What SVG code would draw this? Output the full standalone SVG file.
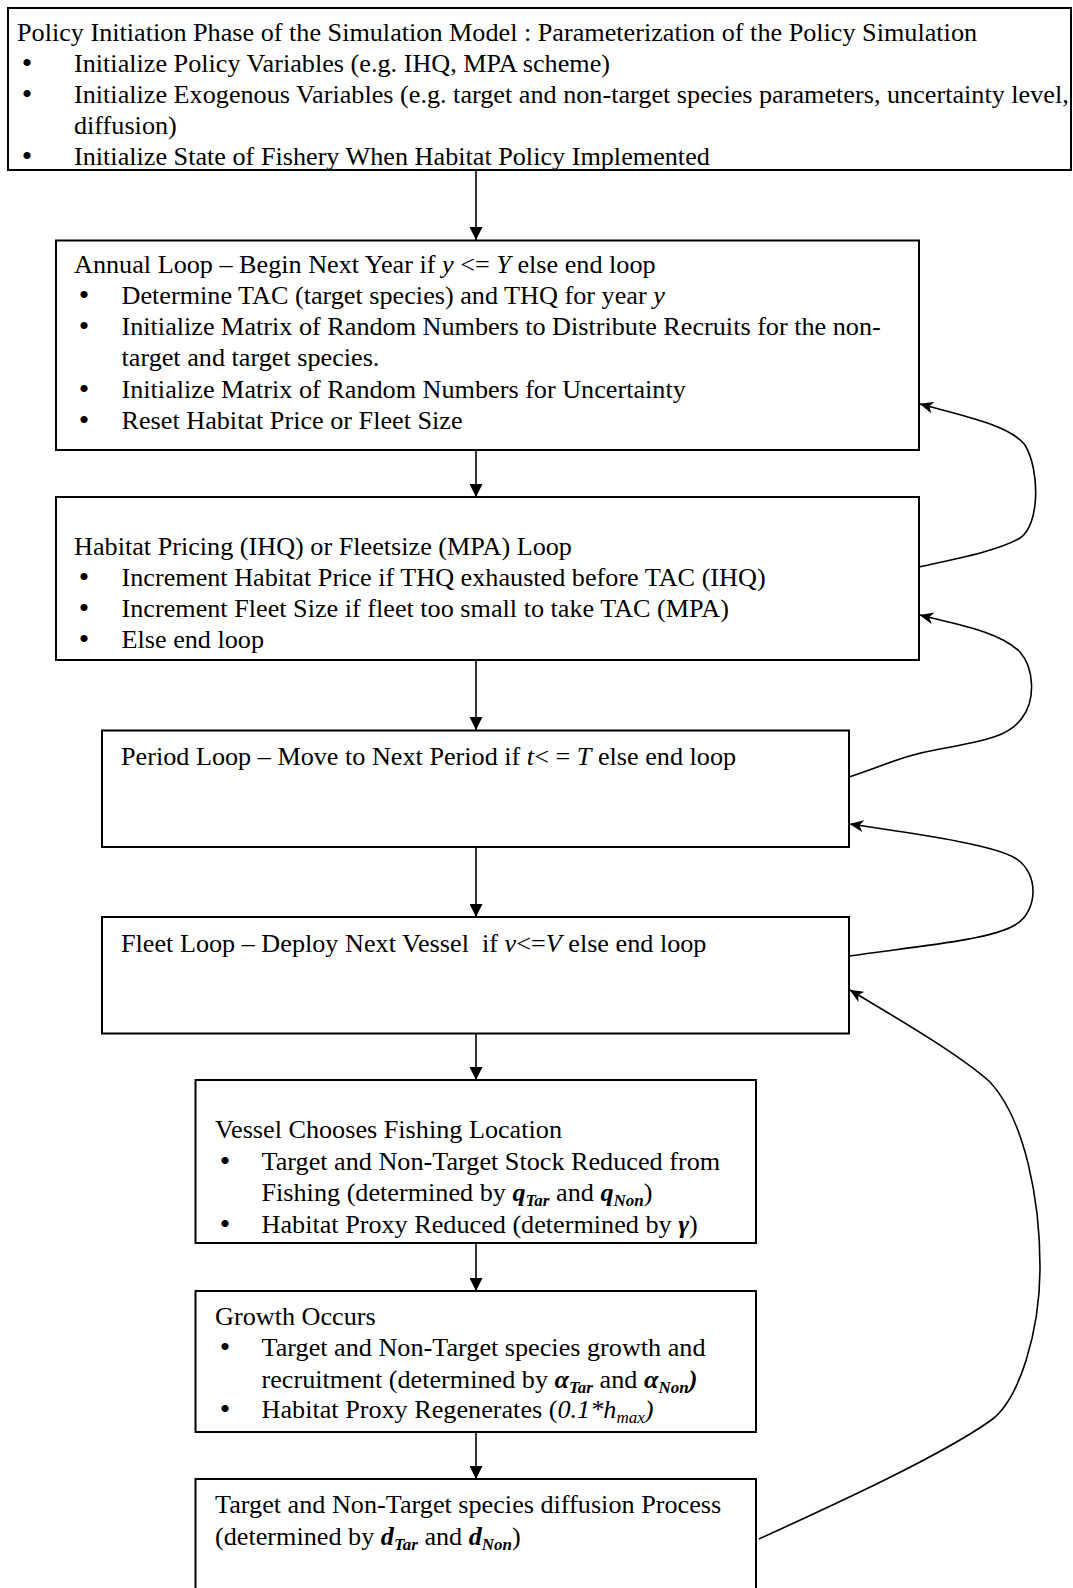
<svg xmlns="http://www.w3.org/2000/svg" width="1073" height="1588" viewBox="0 0 1073 1588">
<style>
text{font-family:"Liberation Serif","Times New Roman",serif;font-size:26.2px;fill:#000}
text.b{font-size:30px;text-anchor:middle}
.box{fill:#fff;stroke:#000;stroke-width:2}
.edge{fill:none;stroke:#000;stroke-width:1.6}
.i{font-style:italic}
.bi{font-style:italic;font-weight:bold}
.sub{font-size:17px}
</style>
<defs>
<marker id="tri" markerUnits="userSpaceOnUse" viewBox="0 0 13 13" refX="13" refY="6.5" markerWidth="13" markerHeight="13" orient="auto">
<path d="M0,0 L13,6.5 L0,13 z" fill="#000"/>
</marker>
<marker id="stealth" markerUnits="userSpaceOnUse" viewBox="0 0 14 12" refX="13.5" refY="6" markerWidth="14" markerHeight="12" orient="auto">
<path d="M0,0 L14,6 L0,12 L4,6 z" fill="#000"/>
</marker>
</defs>

<g id="connectors">
<line class="edge" x1="476" y1="170" x2="476" y2="240" marker-end="url(#tri)"/>
<line class="edge" x1="476" y1="450" x2="476" y2="497" marker-end="url(#tri)"/>
<line class="edge" x1="476" y1="660" x2="476" y2="730" marker-end="url(#tri)"/>
<line class="edge" x1="476" y1="847" x2="476" y2="917" marker-end="url(#tri)"/>
<line class="edge" x1="476" y1="1033" x2="476" y2="1080" marker-end="url(#tri)"/>
<line class="edge" x1="476" y1="1243" x2="476" y2="1291" marker-end="url(#tri)"/>
<line class="edge" x1="476" y1="1432" x2="476" y2="1479" marker-end="url(#tri)"/>
<path class="edge" d="M919,567 C960,558 1000,550 1020,538 C1040,525 1040,470 1025,445 C1010,425 960,415 920,404" marker-end="url(#stealth)"/>
<path class="edge" d="M849,777 C885,765 905,755 940,749 C990,740 1010,735 1022,718 C1036,700 1034,668 1020,652 C1000,632 960,625 920,615" marker-end="url(#stealth)"/>
<path class="edge" d="M849,956 C920,946 990,940 1015,925 C1038,912 1040,873 1015,858 C990,843 900,832 850,824" marker-end="url(#stealth)"/>
<path class="edge" d="M759,1539 C840,1502 940,1456 990,1421 C1020,1400 1040,1330 1040,1267 C1040,1200 1025,1120 990,1082 C960,1055 900,1020 850,990" marker-end="url(#stealth)"/>
</g>

<g id="policy-init">
<rect class="box" x="8" y="8" width="1063" height="162"/>
<text x="17" y="41">Policy Initiation Phase of the Simulation Model : Parameterization of the Policy Simulation</text>
<text class="b" x="27" y="73">•</text>
<text x="74" y="72">Initialize Policy Variables (e.g. IHQ, MPA scheme)</text>
<text class="b" x="27" y="104">•</text>
<text x="74" y="103">Initialize Exogenous Variables (e.g. target and non-target species parameters, uncertainty level,</text>
<text x="74" y="134">diffusion)</text>
<text class="b" x="27" y="166">•</text>
<text x="74" y="165">Initialize State of Fishery When Habitat Policy Implemented</text>
</g>

<g id="annual-loop">
<rect class="box" x="56" y="240.5" width="863" height="209.5"/>
<text x="74" y="273">Annual Loop – Begin Next Year if <tspan class="i">y</tspan> &lt;= <tspan class="i">Y</tspan> else end loop</text>
<text class="b" x="84" y="305">•</text>
<text x="121.5" y="304">Determine TAC (target species) and THQ for year <tspan class="i">y</tspan></text>
<text class="b" x="84" y="336">•</text>
<text x="121.5" y="335">Initialize Matrix of Random Numbers to Distribute Recruits for the non-</text>
<text x="121.5" y="366">target and target species.</text>
<text class="b" x="84" y="399">•</text>
<text x="121.5" y="398">Initialize Matrix of Random Numbers for Uncertainty</text>
<text class="b" x="84" y="430">•</text>
<text x="121.5" y="429">Reset Habitat Price or Fleet Size</text>
</g>

<g id="habitat-loop">
<rect class="box" x="56" y="497" width="863" height="163"/>
<text x="74" y="555">Habitat Pricing (IHQ) or Fleetsize (MPA) Loop</text>
<text class="b" x="84" y="587">•</text>
<text x="121.5" y="586">Increment Habitat Price if THQ exhausted before TAC (IHQ)</text>
<text class="b" x="84" y="618">•</text>
<text x="121.5" y="617">Increment Fleet Size if fleet too small to take TAC (MPA)</text>
<text class="b" x="84" y="649">•</text>
<text x="121.5" y="648">Else end loop</text>
</g>

<g id="period-loop">
<rect class="box" x="102" y="730.5" width="747" height="116.5"/>
<text x="121" y="765">Period Loop – Move to Next Period if <tspan class="i">t</tspan>&lt; = <tspan class="i">T</tspan> else end loop</text>
</g>

<g id="fleet-loop">
<rect class="box" x="102" y="917" width="747" height="116.5"/>
<text x="121" y="952" xml:space="preserve">Fleet Loop – Deploy Next Vessel  if <tspan class="i">v</tspan>&lt;=<tspan class="i">V</tspan> else end loop</text>
</g>

<g id="vessel-location">
<rect class="box" x="195.5" y="1080" width="560.5" height="163"/>
<text x="215" y="1138">Vessel Chooses Fishing Location</text>
<text class="b" x="225" y="1170.5">•</text>
<text x="261.5" y="1169.5">Target and Non-Target Stock Reduced from</text>
<text x="261.5" y="1201">Fishing (determined by <tspan class="bi">q</tspan><tspan class="bi sub" dy="5">Tar</tspan><tspan dy="-5"> and </tspan><tspan class="bi">q</tspan><tspan class="bi sub" dy="5">Non</tspan><tspan dy="-5">)</tspan></text>
<text class="b" x="225" y="1233.5">•</text>
<text x="261.5" y="1232.5">Habitat Proxy Reduced (determined by <tspan class="bi">γ</tspan>)</text>
</g>

<g id="growth">
<rect class="box" x="195.5" y="1291" width="560.5" height="141"/>
<text x="215" y="1324.5">Growth Occurs</text>
<text class="b" x="225" y="1357">•</text>
<text x="261.5" y="1356">Target and Non-Target species growth and</text>
<text x="261.5" y="1387.5">recruitment (determined by <tspan class="bi">α</tspan><tspan class="bi sub" dy="5">Tar</tspan><tspan dy="-5"> and </tspan><tspan class="bi">α</tspan><tspan class="bi sub" dy="5">Non</tspan><tspan class="bi" dy="-5">)</tspan></text>
<text class="b" x="225" y="1419">•</text>
<text x="261.5" y="1418">Habitat Proxy Regenerates (<tspan class="i">0.1*h</tspan><tspan class="i sub" dy="5">max</tspan><tspan class="i" dy="-5">)</tspan></text>
</g>

<g id="diffusion">
<rect class="box" x="195.5" y="1479" width="560.5" height="130"/>
<text x="215" y="1513">Target and Non-Target species diffusion Process</text>
<text x="215" y="1544.5">(determined by <tspan class="bi">d</tspan><tspan class="bi sub" dy="5">Tar</tspan><tspan dy="-5"> and </tspan><tspan class="bi">d</tspan><tspan class="bi sub" dy="5">Non</tspan><tspan dy="-5">)</tspan></text>
</g>
</svg>
